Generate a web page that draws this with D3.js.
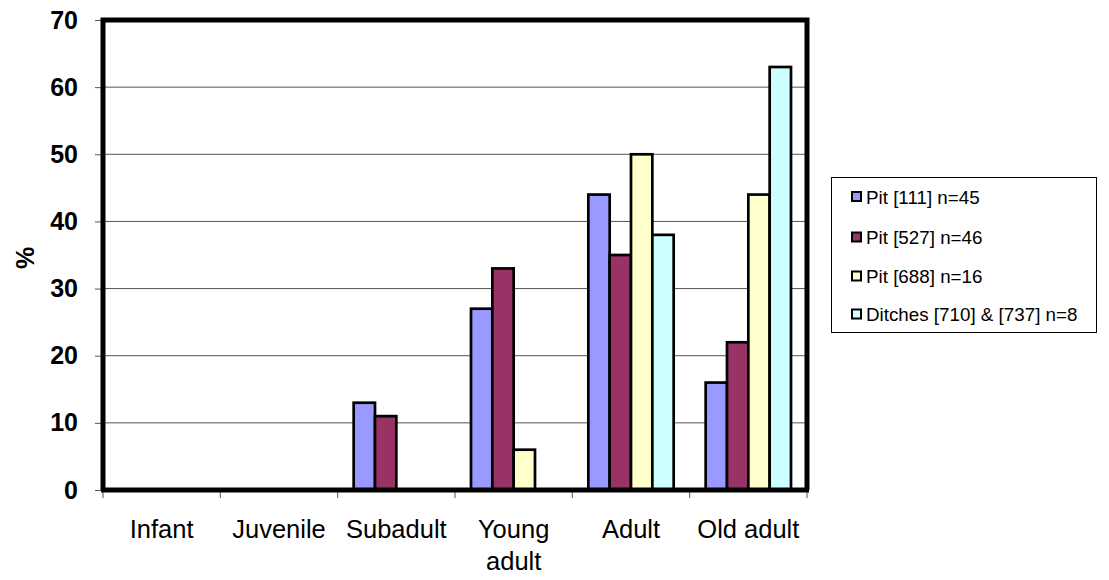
<!DOCTYPE html>
<html>
<head>
<meta charset="utf-8">
<script src="https://cdn.jsdelivr.net/npm/d3@7"></script>
<style>
  html, body { margin: 0; padding: 0; background: #fff; }
  svg { display: block; font-family: "Liberation Sans", Arial, sans-serif; }
</style>
</head>
<body>
<svg id="chart" width="1109" height="580"></svg>
<script>
const categories = ["Infant", "Juvenile", "Subadult", "Young adult", "Adult", "Old adult"];
const categoryLines = [["Infant"], ["Juvenile"], ["Subadult"], ["Young", "adult"], ["Adult"], ["Old adult"]];
const seriesNames = ["Pit [111] n=45", "Pit [527] n=46", "Pit [688] n=16", "Ditches [710] & [737] n=8"];
const pit111 = [0, 0, 13, 27, 44, 16];
const pit527 = [0, 0, 11, 33, 35, 22];
const pit688 = [0, 0, 0, 6, 50, 44];
const ditches = [0, 0, 0, 0, 38, 63];
const yTicks = [0, 10, 20, 30, 40, 50, 60, 70];
const colors = ["#9999FF", "#993366", "#FFFFCC", "#CCFFFF"];
const seriesValues = [pit111, pit527, pit688, ditches];

const svg = d3.select("#chart");
const pL = 103, pR = 807, pT = 20, pB = 490;

const x0 = d3.scaleBand().domain(categories).range([pL, pR]).padding(0);
const x1 = d3.scaleBand().domain(seriesNames).range([0, x0.bandwidth()]).paddingInner(0).paddingOuter(0.75);
const y = d3.scaleLinear().domain([0, 70]).range([pB, pT]);

// gridlines
svg.append("g").selectAll("line").data(yTicks.filter(t => t > 0 && t < 70)).join("line")
  .attr("x1", pL).attr("x2", pR)
  .attr("y1", d => y(d)).attr("y2", d => y(d))
  .attr("stroke", "#555").attr("stroke-width", 1);

// y axis ticks and labels
const yAxis = svg.append("g").attr("transform", `translate(${pL},0)`)
  .call(d3.axisLeft(y).tickValues(yTicks).tickSize(8).tickPadding(17).tickFormat(d3.format("d")));
yAxis.select(".domain").remove();
yAxis.selectAll(".tick line").attr("stroke", "#555").attr("stroke-width", 1);
yAxis.selectAll(".tick text").attr("font-size", 25).attr("font-weight", "bold")
  .attr("fill", "#000").attr("font-family", "'Liberation Sans', Arial, sans-serif");

// bars
const barData = [];
categories.forEach((c, i) => {
  seriesNames.forEach((s, j) => {
    barData.push({ c, s, v: seriesValues[j][i], color: colors[j] });
  });
});
svg.append("g").selectAll("rect").data(barData.filter(d => d.v > 0)).join("rect")
  .attr("x", d => x0(d.c) + x1(d.s))
  .attr("width", x1.bandwidth())
  .attr("y", d => y(d.v))
  .attr("height", d => y(0) - y(d.v))
  .attr("fill", d => d.color)
  .attr("stroke", "#000").attr("stroke-width", 2.7);

// x tick marks at category boundaries
const bounds = categories.map(c => x0(c)).concat([pR]);
svg.append("g").selectAll("line").data(bounds).join("line")
  .attr("x1", d => d).attr("x2", d => d)
  .attr("y1", pB).attr("y2", pB + 8)
  .attr("stroke", "#555").attr("stroke-width", 1);

// frame (plot border)
svg.append("path")
  .attr("d", `M${pL},${pB}V${pT}H${pR}V${pB}`)
  .attr("fill", "none").attr("stroke", "#000").attr("stroke-width", 5);
svg.append("line").attr("x1", pL - 2).attr("x2", pR + 2).attr("y1", pB).attr("y2", pB)
  .attr("stroke", "#000").attr("stroke-width", 5);

// x labels
const xl = svg.append("g").selectAll("text").data(categories).join("text")
  .attr("x", d => x0(d) + x0.bandwidth() / 2)
  .attr("y", 538)
  .attr("text-anchor", "middle")
  .attr("font-size", 25.5).attr("fill", "#000");
xl.each(function(d, i) {
  const t = d3.select(this);
  categoryLines[i].forEach((line, k) => {
    t.append("tspan").attr("x", x0(d) + x0.bandwidth() / 2).attr("dy", k === 0 ? 0 : 32).text(line);
  });
});

// y axis title
svg.append("text").attr("transform", "translate(34,258) rotate(-90)")
  .attr("text-anchor", "middle").attr("font-size", 25).attr("font-weight", "bold").text("%");

// legend
const lg = svg.append("g");
lg.append("rect").attr("x", 831.5).attr("y", 177.5).attr("width", 265).attr("height", 155)
  .attr("fill", "#fff").attr("stroke", "#000").attr("stroke-width", 1);
const rowY = [197, 237.5, 276.5, 314.5];
seriesNames.forEach((s, j) => {
  lg.append("rect").attr("x", 852).attr("y", rowY[j] - 5).attr("width", 9).attr("height", 9)
    .attr("fill", colors[j]).attr("stroke", "#000").attr("stroke-width", 2);
  lg.append("text").attr("x", 866).attr("y", rowY[j] + 6.5)
    .attr("font-size", 18.8).attr("fill", "#000").text(s);
});
</script>
</body>
</html>
